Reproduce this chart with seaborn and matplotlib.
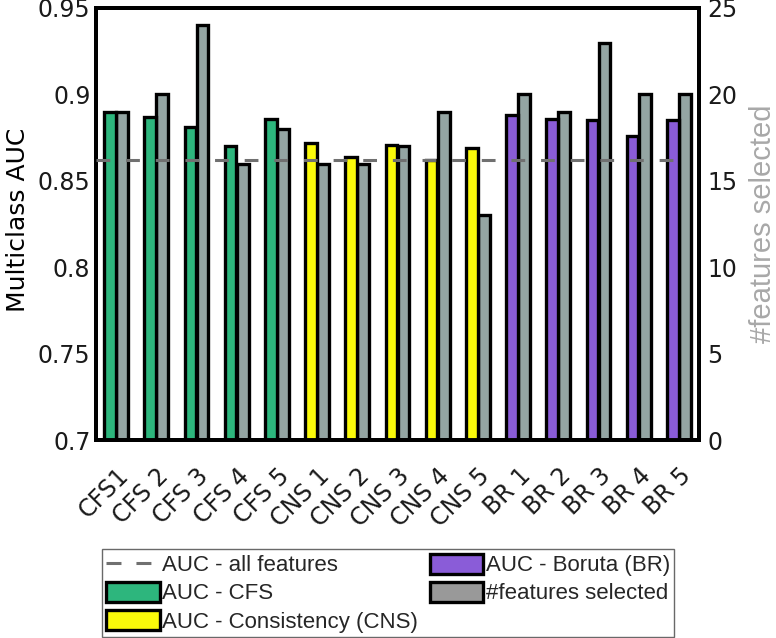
import numpy as np
import pandas as pd
import matplotlib
matplotlib.use('Agg')
import matplotlib.pyplot as plt
import matplotlib.transforms as mtransforms
import seaborn as sns
from matplotlib.patches import Patch
from matplotlib.lines import Line2D
from matplotlib.ticker import FormatStrFormatter

# Data
labels = ['CFS1', 'CFS 2', 'CFS 3', 'CFS 4', 'CFS 5',
          'CNS 1', 'CNS 2', 'CNS 3', 'CNS 4', 'CNS 5',
          'BR 1', 'BR 2', 'BR 3', 'BR 4', 'BR 5']
method = ['CFS'] * 5 + ['CNS'] * 5 + ['BR'] * 5
auc = [0.890, 0.887, 0.881, 0.870, 0.886,
       0.872, 0.864, 0.871, 0.862, 0.869,
       0.888, 0.886, 0.885, 0.876, 0.885]
n_features = [19, 20, 24, 16, 18,
              16, 16, 17, 19, 13,
              20, 19, 23, 20, 20]
auc_all = 0.862

colors = {'CFS': '#2db67d', 'CNS': '#fafa0a', 'BR': '#8a5cd8'}
gray_bar = '#94a5a3'

sns.set_style('white')
plt.rcParams['font.family'] = ['DejaVu Sans']

df = pd.DataFrame({'label': labels, 'method': method, 'auc': auc, 'nfeat': n_features})
df['pos'] = np.arange(len(df))

fig = plt.figure(figsize=(7.76, 6.38), dpi=100)
ax = fig.add_axes([0.1237, 0.3103, 0.777, 0.6772])
ax2 = ax.twinx()

sns.barplot(data=df.assign(pos=df['pos'] - 0.15), x='pos', y='auc', hue='method',
            palette=colors, saturation=1, native_scale=True, width=0.29, dodge=False,
            edgecolor='black', linewidth=2.4, legend=False, ax=ax)
sns.barplot(data=df.assign(pos=df['pos'] + 0.15), x='pos', y='nfeat',
            color=gray_bar, saturation=1, native_scale=True, width=0.29,
            edgecolor='black', linewidth=2.4, ax=ax2)

ax.axhline(auc_all, xmin=0, xmax=0.973, color='#707070', linestyle=(0, (4.5, 5.2)),
           linewidth=2.2, zorder=5)

ax.set_zorder(ax2.get_zorder() + 1)
ax.patch.set_visible(False)

ax.set_xlim(-0.5, 14.5)
ax.set_ylim(0.7, 0.95)
ax2.set_ylim(0, 25)
ax.set_yticks([0.7, 0.75, 0.8, 0.85, 0.9, 0.95])
ax.yaxis.set_major_formatter(FormatStrFormatter('%g'))
ax2.set_yticks([0, 5, 10, 15, 20, 25])

ax.set_xticks(df['pos'])
ax.set_xticklabels(labels, rotation=45, ha='right', va='top', rotation_mode='anchor')
shift = mtransforms.ScaledTranslation(0.15, 0, fig.dpi_scale_trans)
for t in ax.get_xticklabels():
    t.set_transform(t.get_transform() + shift)
ax.set_xlabel('')
ax2.set_xlabel('')
ax.set_ylabel('Multiclass AUC', fontsize=18, color='black', labelpad=11)
ax.yaxis.set_label_coords(-0.11, 0.51)
ax2.set_ylabel('#features selected', fontsize=21, color='#a8a8a8', labelpad=8,
               family='Liberation Sans')

for a in (ax, ax2):
    a.tick_params(axis='both', length=0, labelsize=17, colors='#1a1a1a', pad=4)
    for s in a.spines.values():
        s.set_linewidth(2.8)
        s.set_color('black')
ax.tick_params(axis='x', pad=17)
ax2.tick_params(axis='y', pad=6)

handles = [
    Line2D([0], [0], color='#707070', linestyle=(0, (4.9, 4.9)), linewidth=2.2),
    Patch(facecolor=colors['CFS'], edgecolor='black', linewidth=2.4),
    Patch(facecolor=colors['CNS'], edgecolor='black', linewidth=2.4),
    Patch(facecolor=colors['BR'], edgecolor='black', linewidth=2.4),
    Patch(facecolor='#999999', edgecolor='black', linewidth=2.4),
]
names = ['AUC - all features', 'AUC - CFS', 'AUC - Consistency (CNS)',
         'AUC - Boruta (BR)', '#features selected']
leg = fig.legend(handles, names, ncol=2, loc='lower left',
                 bbox_to_anchor=(102 / 776, 1 / 638),
                 prop={'family': 'Liberation Sans', 'size': 16},
                 frameon=True, fancybox=False, edgecolor='#444444', handlelength=2.4,
                 handleheight=1.0, handletextpad=0.1, columnspacing=0.55,
                 labelspacing=0.25, borderpad=0.2, borderaxespad=0)
leg.get_frame().set_linewidth(1.0)

fig.savefig('out.png', dpi=100)
